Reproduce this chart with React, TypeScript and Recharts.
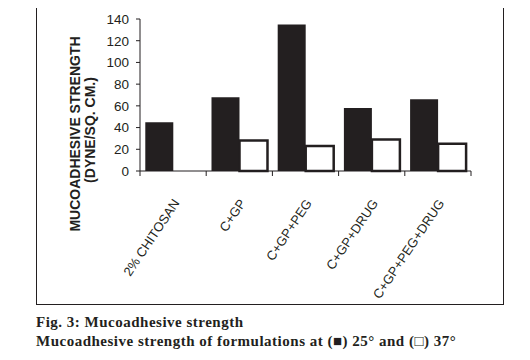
import { BarChart, Bar, XAxis, YAxis } from "recharts";

const formulations = ["2% CHITOSAN", "C+GP", "C+GP+PEG", "C+GP+DRUG", "C+GP+PEG+DRUG"];
const at25 = [45, 68, 135, 58, 66];
const at37: (number | null)[] = [null, 28, 23, 29, 25];
const yTicks = [0, 20, 40, 60, 80, 100, 120, 140];

const data = formulations.map((name, i) => ({ name, t25: at25[i], t37: at37[i] }));

const INK = "#231f20";
const PLOT_W = 331;

const XTick = (props: any) => {
  const { x, y, payload, index } = props;
  const half = payload && payload.offset ? payload.offset : PLOT_W / formulations.length / 2;
  return (
    <g>
      <line x1={x - half} x2={x - half} y1={y} y2={y + 5} stroke={INK} />
      {index === formulations.length - 1 && (
        <line x1={x + half} x2={x + half} y1={y} y2={y + 5} stroke={INK} />
      )}
      <text
        transform={`translate(${x + 7},${y + 32}) rotate(-56)`}
        textAnchor="end"
        fontSize={13}
        fontFamily="Liberation Sans, Arial, sans-serif"
        fill={INK}
      >
        {payload.value}
      </text>
    </g>
  );
};

const YLabel = () => (
  <g fontFamily="Liberation Sans, Arial, sans-serif" fontWeight="bold" fontSize={14} fill={INK}>
    <text transform="translate(80,134) rotate(-90)" textAnchor="middle">
      MUCOADHESIVE STRENGTH
    </text>
    <text transform="translate(95,130) rotate(-90)" textAnchor="middle">
      (DYNE/SQ. CM.)
    </text>
  </g>
);

export default function App() {
  return (
    <div style={{ position: "relative", width: 530, height: 360, margin: -8, background: "#fff" }}>
      <div
        style={{
          position: "absolute",
          left: 36,
          top: 5,
          width: 468,
          height: 300,
          border: `1.5px solid ${INK}`,
          boxSizing: "border-box",
        }}
      />
      <div style={{ position: "absolute", left: 0, top: 0 }}>
        <BarChart
          width={530}
          height={360}
          data={data}
          margin={{ top: 19, right: 59, left: 80, bottom: 69 }}
          barCategoryGap="8%"
          barGap={0}
        >
          <XAxis
            dataKey="name"
            height={120}
            interval={0}
            tickLine={false}
            tickSize={0}
            tickMargin={0}
            tick={<XTick />}
            axisLine={{ stroke: INK }}
          />
          <YAxis
            width={60}
            domain={[0, 140]}
            ticks={yTicks}
            tickSize={4}
            tickMargin={7}
            tickLine={{ stroke: INK }}
            axisLine={{ stroke: INK }}
            tick={{ fill: INK, fontSize: 13.5, fontFamily: "Liberation Sans, Arial, sans-serif" }}
            label={{ content: () => <YLabel /> }}
          />
          <Bar dataKey="t25" fill={INK} isAnimationActive={false} />
          <Bar dataKey="t37" fill="#fff" stroke={INK} strokeWidth={2.5} isAnimationActive={false} />
        </BarChart>
      </div>
      <div
        style={{
          position: "absolute",
          left: 36,
          top: 313,
          fontFamily: "Liberation Serif, serif",
          fontWeight: "bold",
          fontSize: 15,
          letterSpacing: 0.5,
          lineHeight: "19px",
          color: INK,
          whiteSpace: "nowrap",
        }}
      >
        <div>Fig. 3: Mucoadhesive strength</div>
        <div>Mucoadhesive strength of formulations at (■) 25° and (□) 37°</div>
      </div>
    </div>
  );
}
